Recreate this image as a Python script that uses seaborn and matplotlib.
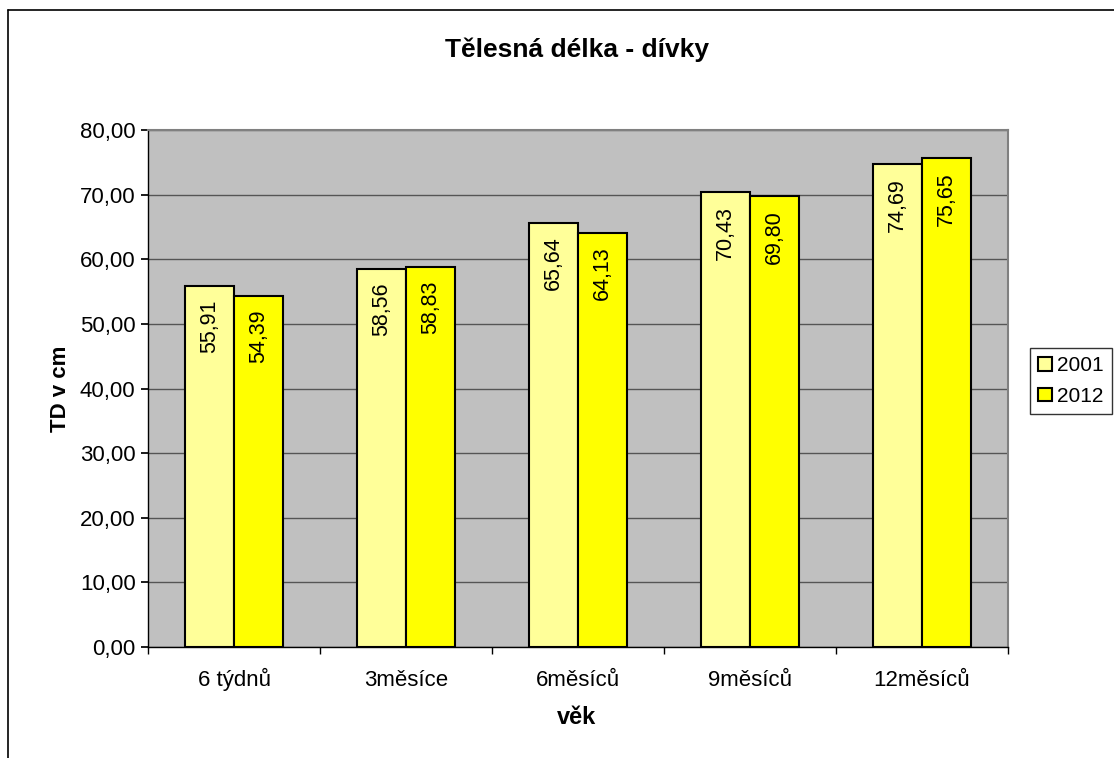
import matplotlib
matplotlib.use("Agg")
import matplotlib.pyplot as plt
import seaborn as sns
import pandas as pd
from matplotlib.patches import Rectangle
from matplotlib.lines import Line2D

categories = ["6 týdnů", "3měsíce", "6měsíců", "9měsíců", "12měsíců"]
years = ["2001", "2012"]
values_2001 = [55.91, 58.56, 65.64, 70.43, 74.69]
values_2012 = [54.39, 58.83, 64.13, 69.80, 75.65]
y_ticks = [0, 10, 20, 30, 40, 50, 60, 70, 80]

df = pd.DataFrame({
    "věk": categories * 2,
    "rok": [years[0]] * len(categories) + [years[1]] * len(categories),
    "TD": values_2001 + values_2012,
})

sns.set_theme(style="white")
plt.rcParams["font.family"] = ["Liberation Sans", "DejaVu Sans"]
plt.rcParams.update({"text.color": "black", "axes.labelcolor": "black",
                     "xtick.color": "black", "ytick.color": "black"})

fig = plt.figure(figsize=(11.14, 7.58), dpi=100)
ax = fig.add_axes([148 / 1114, 1 - 647 / 758, (1008 - 148) / 1114, (647 - 130) / 758])

palette = {"2001": "#FFFF99", "2012": "#FFFF00"}
sns.barplot(data=df, x="věk", y="TD", hue="rok", palette=palette,
            order=categories, hue_order=years, width=0.57,
            edgecolor="black", linewidth=1.5, saturation=1,
            legend=False, ax=ax, zorder=3)

ax.set_facecolor("#C0C0C0")
ax.set_ylim(0, 80)
ax.set_xlim(-0.5, len(categories) - 0.5)
ax.set_yticks(y_ticks)
ax.set_yticklabels([f"{v:.2f}".replace(".", ",") for v in y_ticks], fontsize=16)
ax.tick_params(axis="x", labelsize=16, direction="out", pad=28)
ax.tick_params(axis="y", length=5, direction="out", pad=4, left=True)
ax.set_xticks([i - 0.5 for i in range(len(categories) + 1)], minor=True)
ax.tick_params(axis="x", which="major", length=0, bottom=True)
ax.tick_params(axis="x", which="minor", length=5, bottom=True)
for lbl in ax.get_xticklabels():
    lbl.set_verticalalignment("baseline")
ax.grid(axis="y", color="#555555", linewidth=1, zorder=0)
ax.set_axisbelow(True)

for side in ["top", "right"]:
    ax.spines[side].set_color("#808080")
    ax.spines[side].set_linewidth(1.5)
for side in ["left", "bottom"]:
    ax.spines[side].set_color("black")
    ax.spines[side].set_linewidth(1)

# value labels inside the top of each bar, rotated
for container in ax.containers:
    for b in container:
        h = b.get_height()
        ax.annotate(f"{h:.2f}".replace(".", ","),
                    xy=(b.get_x() + b.get_width() / 2, h),
                    xytext=(0, -10), textcoords="offset points",
                    rotation=90, ha="center", va="top", fontsize=15.5, zorder=5)

ax.set_ylabel("TD v cm", fontsize=16, fontweight="bold", labelpad=6)
ax.set_xlabel("")
fig.text(577 / 1114, 1 - 724 / 758, "věk", ha="center", va="baseline",
         fontsize=17, fontweight="bold")
fig.text(577 / 1114, 1 - 50 / 758, "Tělesná délka - dívky", ha="center", va="center",
         fontsize=19, fontweight="bold")

handles = [Rectangle((0, 0), 1, 1, facecolor=palette[y], edgecolor="black", linewidth=1.5)
           for y in years]
leg = fig.legend(handles, years, loc="upper left",
                 bbox_to_anchor=(1030 / 1114, 1 - 348 / 758),
                 fontsize=15, frameon=True, fancybox=False, handlelength=0.65,
                 handleheight=0.65, handletextpad=0.25, borderpad=0.4,
                 labelspacing=0.55, borderaxespad=0)
leg.get_frame().set_edgecolor("black")
leg.get_frame().set_linewidth(1)

# outer chart border (top and left edges visible)
fig.add_artist(Line2D([8 / 1114, 8 / 1114], [0, 1 - 10 / 758], transform=fig.transFigure,
                      color="black", linewidth=1.2))
fig.add_artist(Line2D([8 / 1114, 1], [1 - 10 / 758, 1 - 10 / 758], transform=fig.transFigure,
                      color="black", linewidth=1.2))

fig.savefig("out.png", dpi=100, facecolor="white")
